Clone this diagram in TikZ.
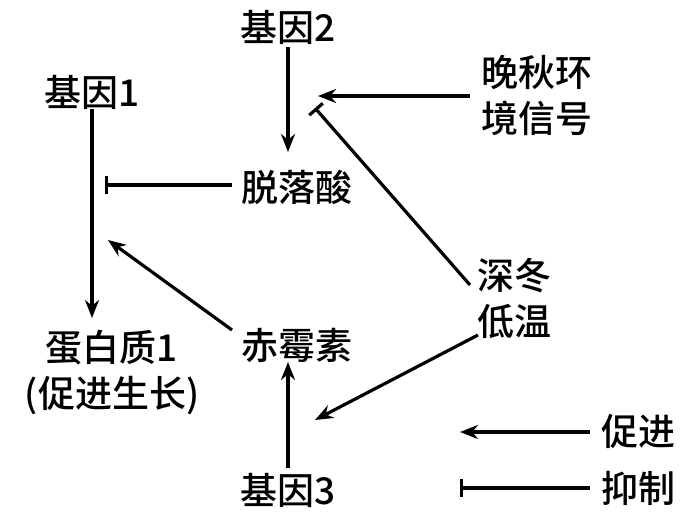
\documentclass[tikz,border=0pt]{standalone}
\usepackage{fontspec}
\setmainfont{Noto Sans CJK SC}[BoldFont={Noto Sans CJK SC Medium}]
\usetikzlibrary{arrows.meta}
\begin{document}
\begin{tikzpicture}[x=1pt,y=-1pt,
  lbl/.style={font=\fontsize{37}{46}\selectfont\bfseries,inner sep=0pt,align=center},
  pro/.style={line width=3.2pt,-{Stealth[length=18pt,width=14pt]}},
  inh/.style={line width=3.2pt,-{Bar[width=18pt,line width=3.2pt]}}]
\useasboundingbox (0,0) rectangle (690,515);
\node[lbl] (g2) at (288,27) {基因2};
\node[lbl] (g1) at (92,92) {基因1};
\node[lbl] (wq) at (537,96) {晚秋环\\境信号};
\node[lbl] (aba) at (297,187) {脱落酸};
\node[lbl] (sd) at (514,298) {深冬\\低温};
\node[lbl] (p1) at (112,372) {蛋白质1\\(促进生长)};
\node[lbl] (ga) at (297,345) {赤霉素};
\node[lbl] (g3) at (288,490) {基因3};
\node[lbl] (cj) at (638,432) {促进};
\node[lbl] (yz) at (638,488) {抑制};
\coordinate (t1) at (318,96);
\coordinate (t2) at (315,108);
\coordinate (t3) at (105,185);
\coordinate (t4) at (108,240);
\coordinate (t5) at (315,420);
\coordinate (l1a) at (590,432);
\coordinate (l1b) at (460,432);
\coordinate (l2a) at (590,488);
\coordinate (l2b) at (460,488);
\draw[pro] (288,47) -- (288,152);
\draw[pro] (470,96) -- (t1);
\draw[inh] (470,285) -- (t2);
\draw[inh] (232,185) -- (t3);
\draw[pro] (g1.south) -- (92,318);
\draw[pro] (232,330) -- (t4);
\draw[pro] (478,335) -- (t5);
\draw[pro] (288,468) -- (288,362);
\draw[pro] (l1a) -- (l1b);
\draw[inh] (l2a) -- (l2b);
\end{tikzpicture}
\end{document}
